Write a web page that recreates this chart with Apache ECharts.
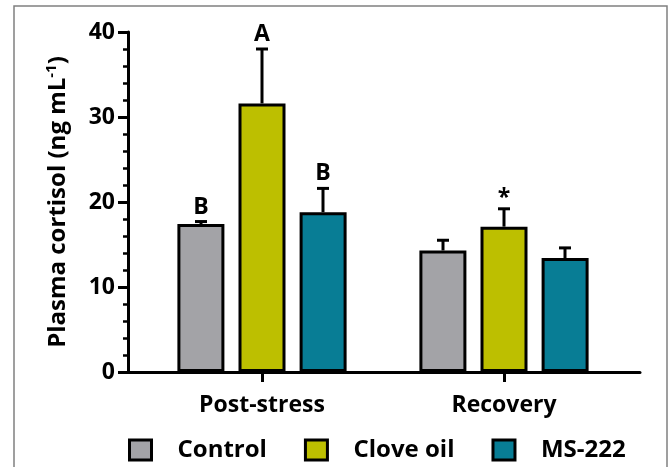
<!DOCTYPE html>
<html>
<head>
<meta charset="utf-8">
<script src="https://cdn.jsdelivr.net/npm/echarts@6/dist/echarts.min.js"></script>
<style>
html,body{margin:0;padding:0;background:#fff;}
#c{width:669px;height:467px;}
</style>
</head>
<body>
<div id="c"></div>
<script>
const categories = ['Post-stress', 'Recovery'];
const seriesNames = ['Control', 'Clove oil', 'MS-222'];
const controlMean = [17.4, 14.3];
const controlSem = [0.3, 1.2];
const cloveMean = [31.6, 17.1];
const cloveSem = [6.4, 2.1];
const msMean = [18.8, 13.4];
const msSem = [2.8, 1.2];
const controlSig = ['B', ''];
const cloveSig = ['A', '*'];
const msSig = ['B', ''];
const yMin = 0, yMax = 40, yInterval = 10;

const colors = ['#a3a3a7', '#bdbf00', '#087d95'];
const FONT = 'Open Sans';
const BAR_W = 47;
const BAR_STEP = 61;

function barSeries(k, mean) {
  return {
    type: 'bar', name: seriesNames[k], xAxisIndex: 0, yAxisIndex: 0,
    data: mean, barWidth: BAR_W, barGap: '30%',
    itemStyle: { color: colors[k], borderColor: '#000', borderWidth: 3 },
    z: 3
  };
}
function errSeries(k, mean, sem, sig) {
  return {
    type: 'custom', name: seriesNames[k] + ' SEM', xAxisIndex: 0, yAxisIndex: 0, z: 5,
    data: mean.map((m, i) => [i, m, m + sem[i]]),
    encode: { x: 0, y: [1, 2] },
    renderItem: function (params, api) {
      const i = api.value(0);
      const lo = api.coord([i, api.value(1)]);
      const hi = api.coord([i, api.value(2)]);
      const x = lo[0] + (k - 1) * BAR_STEP;
      const children = [
        { type: 'line', shape: { x1: x, y1: lo[1], x2: x, y2: hi[1] }, style: { stroke: '#000', lineWidth: 3 } },
        { type: 'line', shape: { x1: x - 6, y1: hi[1], x2: x + 6, y2: hi[1] }, style: { stroke: '#000', lineWidth: 3 } }
      ];
      const t = sig[params.dataIndex];
      if (t) {
        const star = t === '*';
        children.push({ type: 'text', style: { text: t, x: x, y: hi[1] - (star ? -1 : 3), align: 'center', verticalAlign: 'bottom',
          fontFamily: FONT, fontWeight: 'bold', fontSize: 23, fill: '#000' } });
      }
      return { type: 'group', children: children };
    }
  };
}

const chart = echarts.init(document.getElementById('c'));
chart.setOption({
  animation: false,
  textStyle: { fontFamily: FONT },
  graphic: [{ type: 'rect', shape: { x: 14, y: 6, width: 653, height: 470 }, style: { fill: 'none', stroke: '#808080', lineWidth: 1.5 }, silent: true }],
  grid: [
    { left: 141, right: 44, top: 32, bottom: 95 },
    { left: 128, right: 29, top: 32, bottom: 95 }
  ],
  legend: {
    data: seriesNames, left: 123, top: 433, itemWidth: 22, itemHeight: 20, itemGap: 37, icon: 'rect',
    itemStyle: { borderColor: '#000', borderWidth: 3 },
    textStyle: { fontFamily: FONT, fontWeight: 'bold', fontSize: 24, color: '#000', padding: [0, 0, 0, 21] }
  },
  xAxis: [
    { type: 'category', gridIndex: 0, data: categories,
      axisLine: { show: false },
      axisTick: { show: true, alignWithLabel: true, length: 10, lineStyle: { color: '#000', width: 3 } },
      axisLabel: { color: '#000', fontWeight: 'bold', fontSize: 23, fontFamily: FONT, margin: 22 },
      splitLine: { show: false } },
    { type: 'value', gridIndex: 1, min: 0, max: 1,
      axisLine: { show: true, lineStyle: { color: '#000', width: 3 } },
      axisTick: { show: false }, axisLabel: { show: false }, splitLine: { show: false } }
  ],
  yAxis: [
    { type: 'value', gridIndex: 0, min: yMin, max: yMax, interval: yInterval, show: false, splitLine: { show: false } },
    { type: 'value', gridIndex: 1, min: yMin, max: yMax, interval: yInterval,
      axisLine: { show: true, lineStyle: { color: '#000', width: 3 } },
      axisTick: { show: true, length: 10, lineStyle: { color: '#000', width: 3 } },
      minorTick: { show: true, splitNumber: 5, length: 5, lineStyle: { color: '#000', width: 2.5 } },
      axisLabel: { color: '#000', fontWeight: 'bold', fontSize: 23, fontFamily: FONT, margin: 13 },
      splitLine: { show: false }, minorSplitLine: { show: false },
      name: '{t|Plasma cortisol (ng mL}{s|-1}{t|)}',
      nameLocation: 'middle', nameGap: 55, nameRotate: 90,
      nameTextStyle: {
        rich: {
          t: { fontFamily: FONT, fontWeight: 'bold', fontSize: 24, color: '#000', lineHeight: 29 },
          s: { fontFamily: FONT, fontWeight: 'bold', fontSize: 15, color: '#000', verticalAlign: 'top', lineHeight: 29, padding: [0, 0, 12, 0] }
        }
      } }
  ],
  series: [
    barSeries(0, controlMean), barSeries(1, cloveMean), barSeries(2, msMean),
    errSeries(0, controlMean, controlSem, controlSig),
    errSeries(1, cloveMean, cloveSem, cloveSig),
    errSeries(2, msMean, msSem, msSig)
  ]
});
</script>
</body>
</html>
